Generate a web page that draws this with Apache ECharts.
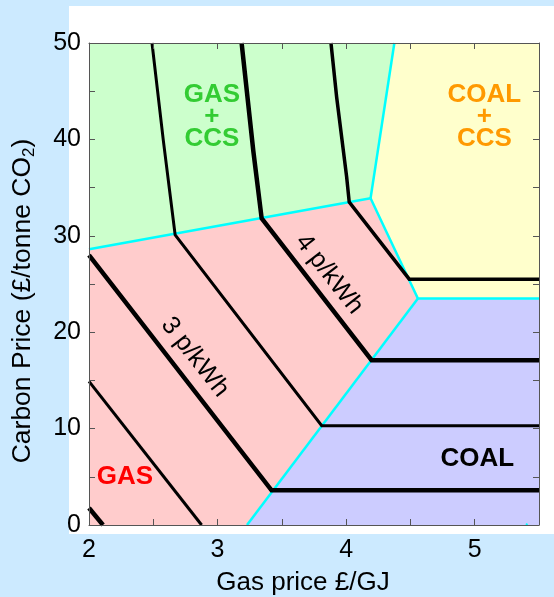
<!DOCTYPE html>
<html><head><meta charset="utf-8">
<script src="https://cdn.jsdelivr.net/npm/echarts@6/dist/echarts.min.js"></script>
<style>html,body{margin:0;padding:0;background:#cceaff;}#c{width:554px;height:597px;}</style>
</head><body><div id="c"></div>
<script>
// Axis ranges & ticks
const xRange = [2, 5.5];
const yRange = [0, 50];
const xTickStep = 0.5;
const yTickStep = 5;
const xTitle = 'Gas price £/GJ';

// Region polygons [gas price, carbon price]
const regionGasCCS  = [[2,28.6],[4.19,33.9],[4.375,50],[2,50]];
const regionCoalCCS = [[4.375,50],[4.19,33.9],[4.558,23.5],[5.5,23.5],[5.5,50]];
const regionGas     = [[2,0],[3.229,0],[4.558,23.5],[4.19,33.9],[2,28.6]];
const regionCoal    = [[3.229,0],[5.5,0],[5.5,23.5],[4.558,23.5]];

// Region boundaries (cyan)
const boundary1 = [[2,28.6],[4.19,33.9]];
const boundary2 = [[4.19,33.9],[4.375,50]];
const boundary3 = [[4.19,33.9],[4.558,23.5],[5.5,23.5]];
const boundary4 = [[3.229,0],[4.558,23.5]];
const boundary5 = [[5.40,0],[5.41,0.15]];

// Generation cost contours
const cost20 = [[2,1.76],[2.109,0]];
const cost25 = [[2,14.9],[2.876,0]];
const cost30 = [[2,28.0],[3.42,3.6],[5.5,3.6]];
const cost35 = [[2.49,50],[2.578,39.9],[2.67,30.1],[3.81,10.3],[5.5,10.3]];
const cost40 = [[3.187,50],[3.278,38.8],[3.343,31.8],[4.198,17.1],[5.5,17.1]];
const cost45 = [[3.882,50],[3.926,44.4],[4.004,36.1],[4.024,33.5],[4.491,25.5],[5.5,25.5]];

// Labels
const contourLabels = [['3 p/kWh',2.824,17.4],['4 p/kWh',3.868,26.0]];
const regionLabels = [['GAS\n+\nCCS',2.956,42.3,'#33cc33'],['COAL\n+\nCCS',5.075,42.3,'#ff9900'],['GAS',2.28,5.0,'#ff0000'],['COAL',5.02,6.85,'#000000']];

const FONT = 'Liberation Sans, Arial, Helvetica, sans-serif';
const regions = [regionGasCCS, regionCoalCCS, regionGas, regionCoal];
const regionColors = ['#ccffcc','#ffffcc','#ffcccc','#ccccff'];

const chart = echarts.init(document.getElementById('c'), null, {renderer:'canvas'});
const axisCommon = {
  z:10,
  axisLine:{show:true,onZero:false,lineStyle:{color:'#555',width:1}},
  axisTick:{show:true,inside:true,length:6,lineStyle:{color:'#555',width:1}},
  splitLine:{show:false}
};
function lineSeries(data, color, width, z){
  return {type:'line', data:data, symbol:'none', silent:true, z:z, xAxisIndex:0, yAxisIndex:0,
    lineStyle:{color:color,width:width,cap:'butt',join:'miter'}};
}
const option = {
  animation:false,
  backgroundColor:'#cceaff',
  graphic:[{type:'rect', shape:{x:69,y:6,width:485,height:528}, style:{fill:'#ffffff'}, z:-10, silent:true},
    {type:'text', x:303, y:583, style:{text:xTitle, font:'26px '+FONT, fill:'#000', textAlign:'center', textVerticalAlign:'middle'}},
    {type:'text', x:23, y:301, rotation:Math.PI/2, style:{text:'{a|Carbon Price (£/tonne CO}{s|2}{a|)}', rich:{a:{fontSize:26.5,fontFamily:FONT,fill:'#000'},s:{fontSize:17,fontFamily:FONT,fill:'#000',verticalAlign:'bottom',padding:[12,0,0,0]}}, textAlign:'center', textVerticalAlign:'middle'}}
  ],
  grid:{left:89,right:15,top:43,bottom:72,containLabel:false},
  xAxis:[
    Object.assign({type:'value',min:xRange[0],max:xRange[1],interval:xTickStep,position:'bottom',
      axisLabel:{formatter:v=>Number.isInteger(v)?String(v):'',fontSize:25,fontFamily:FONT,color:'#000',margin:13}}, axisCommon),
    Object.assign({type:'value',min:xRange[0],max:xRange[1],interval:xTickStep,position:'top',axisLabel:{show:false}}, axisCommon)
  ],
  yAxis:[
    Object.assign({type:'value',min:yRange[0],max:yRange[1],interval:yTickStep,position:'left',
      axisLabel:{formatter:v=>v%10===0?String(v):'',fontSize:25,fontFamily:FONT,color:'#000',margin:8}}, axisCommon),
    Object.assign({type:'value',min:yRange[0],max:yRange[1],interval:yTickStep,position:'right',axisLabel:{show:false}}, axisCommon)
  ],
  series:[
    {type:'custom', silent:true, z:1, data:regions.map((r,i)=>i), renderItem:function(params, api){
      const r = regions[params.dataIndex];
      return {type:'polygon', shape:{points:r.map(p=>api.coord(p))}, style:{fill:regionColors[params.dataIndex], stroke:null}};
    }},
    lineSeries(boundary1,'#00ffff',2.5,3),
    lineSeries(boundary2,'#00ffff',2.5,3),
    lineSeries(boundary3,'#00ffff',2.5,3),
    lineSeries(boundary4,'#00ffff',2.5,3),
    lineSeries(boundary5,'#00ffff',2,3),
    lineSeries(cost20,'#000',4.5,4),
    lineSeries(cost25,'#000',3,4),
    lineSeries(cost30,'#000',4.5,4),
    lineSeries(cost35,'#000',3,4),
    lineSeries(cost40,'#000',4.5,4),
    lineSeries(cost45,'#000',3.5,4),
    {type:'custom', silent:true, z:5, data:contourLabels.map((r,i)=>i), renderItem:function(params, api){
      const l = contourLabels[params.dataIndex];
      const p = api.coord([l[1],l[2]]);
      return {type:'text', x:p[0], y:p[1], rotation:-52*Math.PI/180,
        style:{text:l[0], font:'25.5px '+FONT, fill:'#000', textAlign:'center', textVerticalAlign:'middle'}};
    }},
    {type:'custom', silent:true, z:5, data:regionLabels.map((r,i)=>i), renderItem:function(params, api){
      const l = regionLabels[params.dataIndex];
      const p = api.coord([l[1],l[2]]);
      return {type:'text', x:p[0], y:p[1],
        style:{text:l[0], font:'bold 26px '+FONT, fill:l[3], textAlign:'center', textVerticalAlign:'middle', lineHeight:22}};
    }}
  ]
};
chart.setOption(option);
</script></body></html>
